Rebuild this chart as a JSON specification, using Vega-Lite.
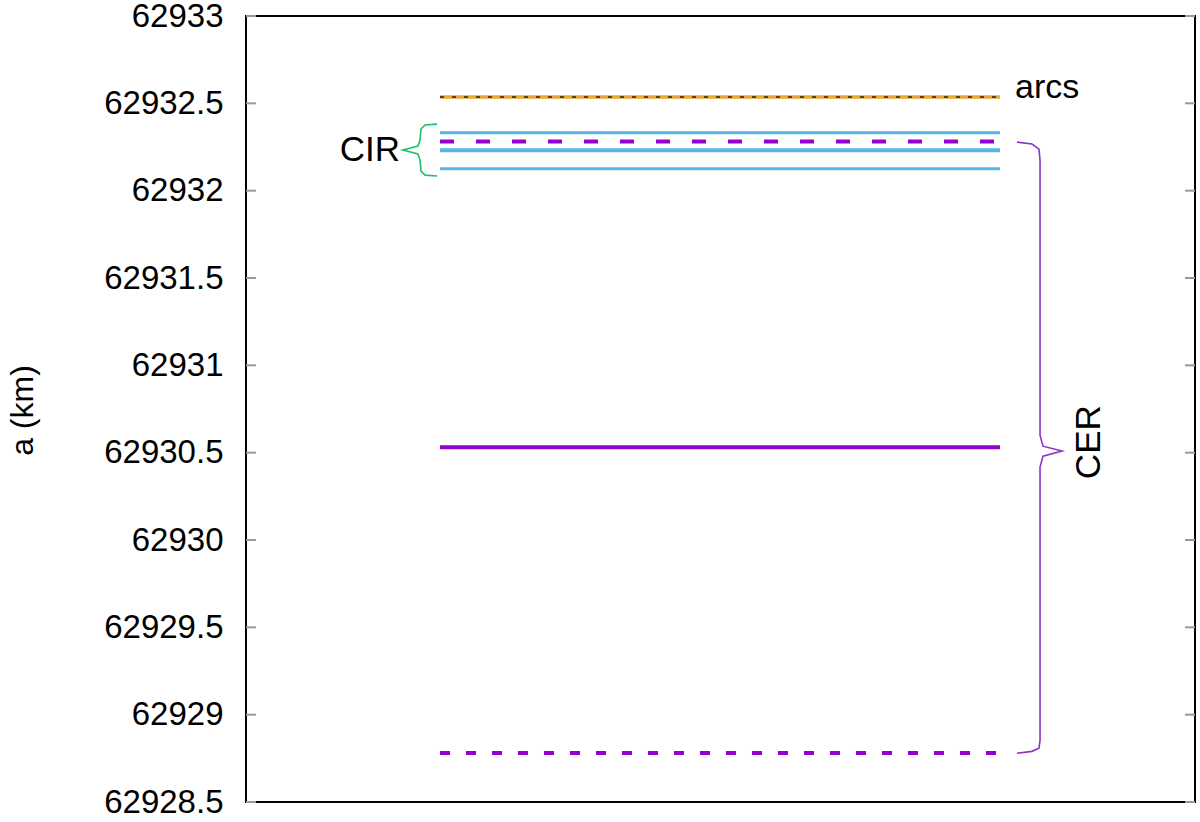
{
  "$schema": "https://vega.github.io/schema/vega-lite/v6.json",
  "width": 949,
  "height": 786,
  "autosize": "none",
  "padding": {"left": 246, "top": 16, "right": 5, "bottom": 20},
  "background": "white",
  "config": {
    "view": {"stroke": "black", "strokeWidth": 2},
    "font": "Liberation Sans",
    "text": {"font": "Liberation Sans"}
  },
  "datasets": {
    "levels": [
      {"name": "arcs", "a": 62932.536, "x1": 0.2044, "x2": 0.7945},
      {"name": "cir_thin", "a": 62932.332, "x1": 0.2044, "x2": 0.7945},
      {"name": "cer_dash_top", "a": 62932.282, "x1": 0.2044, "x2": 0.7945},
      {"name": "cir_thick", "a": 62932.231, "x1": 0.2044, "x2": 0.7945},
      {"name": "cir_thin", "a": 62932.125, "x1": 0.2044, "x2": 0.7945},
      {"name": "cer_solid", "a": 62930.531, "x1": 0.2044, "x2": 0.7945},
      {"name": "cer_dash_bottom", "a": 62928.781, "x1": 0.2044, "x2": 0.7945}
    ],
    "cer_brace": [
      {"i": 1, "x": 0.8124, "a": 62932.278},
      {"i": 2, "x": 0.8282, "a": 62932.267},
      {"i": 3, "x": 0.8356, "a": 62932.238},
      {"i": 4, "x": 0.8367, "a": 62932.175},
      {"i": 5, "x": 0.8367, "a": 62930.600},
      {"i": 6, "x": 0.8398, "a": 62930.537},
      {"i": 7, "x": 0.8599, "a": 62930.509},
      {"i": 8, "x": 0.8398, "a": 62930.480},
      {"i": 9, "x": 0.8367, "a": 62930.417},
      {"i": 10, "x": 0.8367, "a": 62928.853},
      {"i": 11, "x": 0.8356, "a": 62928.808},
      {"i": 12, "x": 0.8282, "a": 62928.790},
      {"i": 13, "x": 0.8124, "a": 62928.779}
    ],
    "cir_brace": [
      {"i": 1, "x": 0.2013, "a": 62932.381},
      {"i": 2, "x": 0.1886, "a": 62932.376},
      {"i": 3, "x": 0.1844, "a": 62932.353},
      {"i": 4, "x": 0.1834, "a": 62932.290},
      {"i": 5, "x": 0.1812, "a": 62932.255},
      {"i": 6, "x": 0.1654, "a": 62932.233},
      {"i": 7, "x": 0.1812, "a": 62932.210},
      {"i": 8, "x": 0.1834, "a": 62932.175},
      {"i": 9, "x": 0.1844, "a": 62932.112},
      {"i": 10, "x": 0.1886, "a": 62932.089},
      {"i": 11, "x": 0.2013, "a": 62932.084}
    ],
    "ticks": [
      {"a": 62928.5}, {"a": 62929}, {"a": 62929.5}, {"a": 62930}, {"a": 62930.5},
      {"a": 62931}, {"a": 62931.5}, {"a": 62932}, {"a": 62932.5}, {"a": 62933}
    ],
    "labels": [
      {"label": "arcs", "x": 0.8103, "a": 62932.53},
      {"label": "CIR", "x": 0.1623, "a": 62932.233},
      {"label": "CER", "x": 0.8883, "a": 62930.56}
    ]
  },
  "encoding": {
    "y": {
      "field": "a",
      "type": "quantitative",
      "scale": {"domain": [62928.5, 62933], "nice": false, "zero": false},
      "axis": {
        "title": "a (km)",
        "values": [62928.5, 62929, 62929.5, 62930, 62930.5, 62931, 62931.5, 62932, 62932.5, 62933],
        "format": "~g",
        "ticks": false,
        "domain": false,
        "grid": false,
        "labelPadding": 23,
        "labelFontSize": 33,
        "labelColor": "black",
        "labelFont": "Liberation Sans",
        "titleFont": "Liberation Sans",
        "titleFontSize": 32,
        "titleFontWeight": "normal",
        "titleColor": "black",
        "titleX": -224,
        "titleY": 394,
        "titleAngle": -90,
        "titleAlign": "center",
        "titleBaseline": "middle"
      }
    }
  },
  "layer": [
    {
      "data": {"name": "ticks"},
      "mark": {"type": "rule", "color": "#999999", "strokeWidth": 2},
      "encoding": {
        "x": {"datum": 0, "type": "quantitative", "scale": {"domain": [0, 1], "nice": false}, "axis": null},
        "x2": {"datum": 0.0105}
      }
    },
    {
      "data": {"name": "ticks"},
      "mark": {"type": "rule", "color": "#999999", "strokeWidth": 2},
      "encoding": {
        "x": {"datum": 0.9895, "type": "quantitative"},
        "x2": {"datum": 1}
      }
    },
    {
      "data": {"name": "levels"},
      "transform": [{"filter": "datum.name === 'arcs'"}],
      "mark": {"type": "rule", "color": "#e9a630", "strokeWidth": 3.5},
      "encoding": {"x": {"field": "x1", "type": "quantitative"}, "x2": {"field": "x2"}}
    },
    {
      "data": {"name": "levels"},
      "transform": [{"filter": "datum.name === 'arcs'"}],
      "mark": {"type": "rule", "color": "#222222", "strokeWidth": 1.5, "strokeDash": [4, 8]},
      "encoding": {"x": {"field": "x1", "type": "quantitative"}, "x2": {"field": "x2"}}
    },
    {
      "data": {"name": "levels"},
      "transform": [{"filter": "datum.name === 'cir_thin'"}],
      "mark": {"type": "rule", "color": "#56b4e9", "strokeWidth": 3},
      "encoding": {"x": {"field": "x1", "type": "quantitative"}, "x2": {"field": "x2"}}
    },
    {
      "data": {"name": "levels"},
      "transform": [{"filter": "datum.name === 'cir_thick'"}],
      "mark": {"type": "rule", "color": "#56b4e9", "strokeWidth": 4},
      "encoding": {"x": {"field": "x1", "type": "quantitative"}, "x2": {"field": "x2"}}
    },
    {
      "data": {"name": "levels"},
      "transform": [{"filter": "datum.name === 'cer_dash_top'"}],
      "mark": {"type": "rule", "color": "#9400d3", "strokeWidth": 4, "strokeDash": [14, 22]},
      "encoding": {"x": {"field": "x1", "type": "quantitative"}, "x2": {"field": "x2"}}
    },
    {
      "data": {"name": "levels"},
      "transform": [{"filter": "datum.name === 'cer_solid'"}],
      "mark": {"type": "rule", "color": "#9400d3", "strokeWidth": 4},
      "encoding": {"x": {"field": "x1", "type": "quantitative"}, "x2": {"field": "x2"}}
    },
    {
      "data": {"name": "levels"},
      "transform": [{"filter": "datum.name === 'cer_dash_bottom'"}],
      "mark": {"type": "rule", "color": "#9400d3", "strokeWidth": 4, "strokeDash": [10, 16]},
      "encoding": {"x": {"field": "x1", "type": "quantitative"}, "x2": {"field": "x2"}}
    },
    {
      "data": {"name": "cer_brace"},
      "mark": {"type": "line", "color": "#8a35c4", "strokeWidth": 1.6, "interpolate": "linear"},
      "encoding": {
        "x": {"field": "x", "type": "quantitative"},
        "order": {"field": "i", "type": "quantitative"}
      }
    },
    {
      "data": {"name": "cir_brace"},
      "mark": {"type": "line", "color": "#1fbf64", "strokeWidth": 1.6, "interpolate": "linear"},
      "encoding": {
        "x": {"field": "x", "type": "quantitative"},
        "order": {"field": "i", "type": "quantitative"}
      }
    },
    {
      "data": {"name": "labels"},
      "transform": [{"filter": "datum.label === 'arcs'"}],
      "mark": {"type": "text", "fontSize": 34, "align": "left", "baseline": "alphabetic", "color": "black"},
      "encoding": {"x": {"field": "x", "type": "quantitative"}, "text": {"field": "label"}}
    },
    {
      "data": {"name": "labels"},
      "transform": [{"filter": "datum.label === 'CIR'"}],
      "mark": {"type": "text", "fontSize": 35, "align": "right", "baseline": "middle", "color": "black"},
      "encoding": {"x": {"field": "x", "type": "quantitative"}, "text": {"field": "label"}}
    },
    {
      "data": {"name": "labels"},
      "transform": [{"filter": "datum.label === 'CER'"}],
      "mark": {"type": "text", "fontSize": 35, "align": "center", "baseline": "middle", "angle": 270, "color": "black"},
      "encoding": {"x": {"field": "x", "type": "quantitative"}, "text": {"field": "label"}}
    }
  ]
}
